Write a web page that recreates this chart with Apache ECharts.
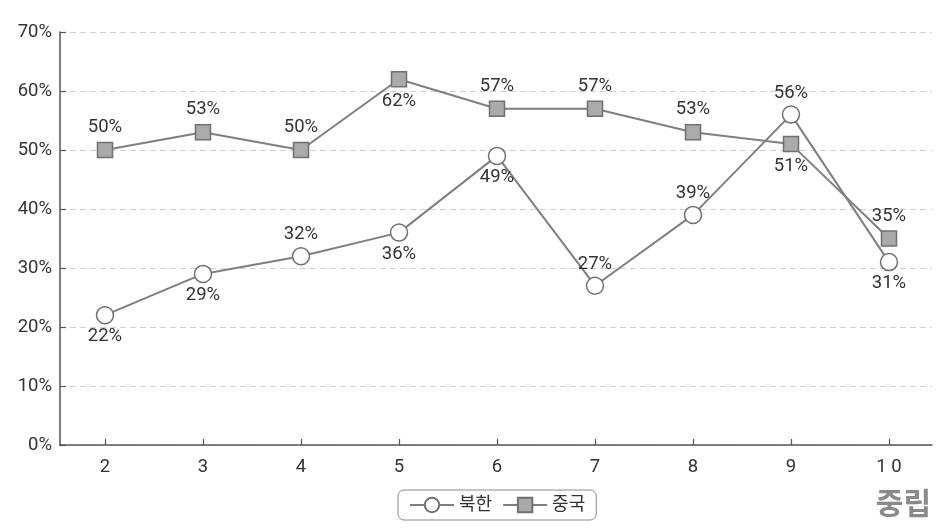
<!DOCTYPE html>
<html>
<head>
<meta charset="utf-8">
<script src="https://cdn.jsdelivr.net/npm/echarts@6/dist/echarts.min.js"></script>
<style>
html,body{margin:0;padding:0;background:#fff;}
#c{width:947px;height:531px;}
</style>
</head>
<body>
<div id="c"></div>
<script>
const xValues = [2, 3, 4, 5, 6, 7, 8, 9, 10];
const xLabels = ['2', '3', '4', '5', '6', '7', '8', '9', '1 0'];
const nkValues = [22, 29, 32, 36, 49, 27, 39, 56, 31];
const cnValues = [50, 53, 50, 62, 57, 57, 53, 51, 35];
const yTicks = [0, 10, 20, 30, 40, 50, 60, 70];
const seriesNames = ['북한', '중국'];
const cornerText = '중립';

// label placement (style)
const nkLabelPos = ['bottom','bottom','top','bottom','bottom','top','top','top','bottom'];
const cnLabelPos = ['top','top','top','bottom','top','top','top','bottom','top'];

const FONT = 'Roboto, "Noto Sans CJK KR", sans-serif';
const chart = echarts.init(document.getElementById('c'));

function build(values, pos, dist) {
  return values.map((v, i) => ({
    value: [xValues[i], v],
    label: { position: pos[i], distance: dist }
  }));
}

chart.setOption({
  animation: false,
  backgroundColor: '#fff',
  grid: { left: 60, right: 15, top: 32, bottom: 86 },
  xAxis: {
    type: 'value',
    min: 2 - 45 / 98,
    max: 10 + 43 / 98,
    splitLine: { show: false },
    axisLine: { show: true, lineStyle: { color: '#555', width: 1.5 } },
    axisTick: { show: true, inside: true, length: 6, lineStyle: { color: '#555', width: 1.2 }, customValues: xValues },
    axisLabel: {
      customValues: xValues,
      formatter: v => xLabels[xValues.indexOf(Math.round(v))] || '',
      color: '#333', fontSize: 18.5, fontFamily: FONT, margin: 13
    }
  },
  yAxis: {
    type: 'value',
    min: 0, max: 70, interval: 10,
    axisLine: { show: true, lineStyle: { color: '#555', width: 1.5 } },
    axisTick: { show: true, inside: true, length: 6, lineStyle: { color: '#555', width: 1.2 } },
    axisLabel: { formatter: v => v + '%', color: '#333', fontSize: 18.5, fontFamily: FONT, margin: 8 },
    splitLine: { show: true, lineStyle: { color: '#d0d0d0', type: [6, 4], width: 1 } }
  },
  legend: {
    data: seriesNames,
    bottom: 11,
    left: 398,
    itemWidth: 44,
    itemHeight: 18,
    itemGap: 10,
    padding: [6, 11, 6, 11],
    borderColor: '#888',
    borderWidth: 1,
    borderRadius: 6,
    textStyle: { color: '#333', fontSize: 18, fontFamily: FONT }
  },
  graphic: [{
    type: 'text',
    right: 16,
    bottom: 10,
    style: { text: cornerText, fill: '#8a8a8a', fontSize: 30, fontWeight: 'bold', fontFamily: FONT }
  }],
  series: [
    {
      name: seriesNames[0],
      type: 'line',
      data: build(nkValues, nkLabelPos, 3),
      symbol: 'circle',
      symbolSize: 17,
      z: 3,
      lineStyle: { color: '#7f7f7f', width: 2 },
      itemStyle: { color: '#fff', borderColor: '#707070', borderWidth: 1.5 },
      label: { show: true, formatter: p => p.value[1] + '%', color: '#333', fontSize: 18.5, fontFamily: FONT }
    },
    {
      name: seriesNames[1],
      type: 'line',
      data: build(cnValues, cnLabelPos, 5),
      symbol: 'rect',
      symbolSize: 15,
      z: 2,
      lineStyle: { color: '#7f7f7f', width: 2 },
      itemStyle: { color: '#aaaaaa', borderColor: '#707070', borderWidth: 1.5 },
      label: { show: true, formatter: p => p.value[1] + '%', color: '#333', fontSize: 18.5, fontFamily: FONT }
    }
  ]
});
</script>
</body>
</html>
